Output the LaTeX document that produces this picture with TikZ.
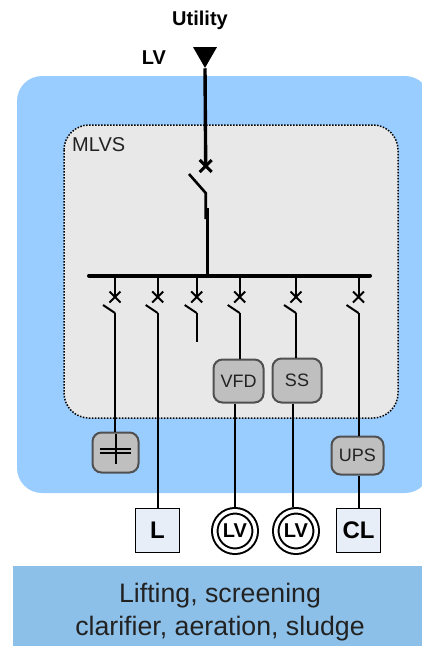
\documentclass[tikz,border=0pt]{standalone}
\usepackage{fontspec}
\setmainfont{Liberation Sans}
\usetikzlibrary{shapes.geometric,shapes.misc}
\definecolor{sitecolor}{HTML}{99CCFF}
\definecolor{panelcolor}{HTML}{E8E8E8}
\definecolor{unitcolor}{HTML}{BFBFBF}
\definecolor{unitline}{HTML}{505050}
\definecolor{loadcolor}{HTML}{E8EEF8}
\definecolor{bandcolor}{HTML}{8DC0E8}
\definecolor{bandtext}{HTML}{222222}
\newcommand{\fs}[1]{\fontsize{#1}{#1}\selectfont}
\tikzset{
  wire/.style={line width=2pt},
  mainwire/.style={line width=3.4pt},
  brk/.style={cross out,draw,line width=2pt,minimum size=9pt,inner sep=0pt},
  unit/.style={draw=unitline,fill=unitcolor,line width=2pt,rounded corners=9pt,inner sep=0pt,text=bandtext},
  load/.style={draw,fill=loadcolor,line width=1pt,minimum size=44pt,inner sep=0pt},
  motor/.style={circle,draw,fill=white,line width=2pt,double=white,double distance=3.5pt,minimum size=40.5pt,inner sep=0pt,outer sep=3.75pt}
}
\begin{document}
\begin{tikzpicture}[x=1pt,y=-1pt]
  \clip (0,0) rectangle (422,646);
  \fill[sitecolor,rounded corners=25pt] (17,76) rectangle (430,493);
  \draw[fill=panelcolor,line width=1.5pt,dash pattern=on 1.5pt off 1.5pt,rounded corners=25pt] (64,125) rectangle (398,418);
  \fill[bandcolor] (13,566) rectangle (422,646);
  \node[text=bandtext,align=center,font=\fs{26.7},inner sep=0pt] (band) at (220,612) {Lifting, screening\\[6pt]clarifier, aeration, sludge};
  \node[font=\fs{20}\bfseries] (utility) at (200,20) {Utility};
  \node[font=\fs{20}\bfseries] (lvlabel) at (154,58) {LV};
  \node[font=\fs{20},text=bandtext,anchor=west,inner sep=0pt] (mlvs) at (72,145) {MLVS};

  % incomer
  \node[regular polygon,regular polygon sides=3,shape border rotate=180,fill,minimum size=27.7pt,inner sep=0pt] (src) at (205,54) {};
  \node[brk,line width=3pt] (brkmain) at (205.7,166) {};
  \coordinate (bladetop) at (189,174);
  \coordinate (bladeend) at (205.7,193);
  \coordinate (bladelow) at (205.7,219);
  \coordinate (feedtop) at (207.7,208);
  \coordinate (feedbus) at (207.7,275);
  \draw[mainwire] (src.south) -- (brkmain.center);
  \draw[wire,line width=2.6pt] (bladetop) -- (bladeend) -- (bladelow);
  \draw[mainwire] (feedtop) -- (feedbus);

  % busbar
  \coordinate (busl) at (89,275.5);
  \coordinate (busr) at (370,275.5);
  \draw[line width=4pt,line cap=round] (busl) -- (busr);

  % branches
  \foreach \n/\x in {1/115,2/157.7,3/196.7,4/239.7,5/296,6/358.5}{
    \coordinate (tap\n) at (\x,275.5);
    \node[brk] (brk\n) at (\x,297) {};
    \coordinate (arm\n) at (\x-12,305);
    \coordinate (hinge\n) at (\x,313);
    \draw[wire] (tap\n) -- (brk\n.center);
    \draw[wire] (arm\n) -- (hinge\n);
  }

  % units and loads
  \node[unit,minimum width=46pt,minimum height=40pt] (cap) at (115.5,452.5) {};
  \node[unit,font=\fs{18},minimum width=50pt,minimum height=43pt] (vfd) at (238.5,381) {VFD};
  \node[unit,font=\fs{18},minimum width=49pt,minimum height=44pt] (ss) at (297,380.5) {SS};
  \node[unit,font=\fs{18},minimum width=52pt,minimum height=38pt] (ups) at (357.5,455.5) {UPS};
  \node[load,font=\fs{24}\bfseries] (lighting) at (157.5,530) {L};
  \node[motor,font=\fs{20}\bfseries] (motora) at (235,531) {LV};
  \node[motor,font=\fs{20}\bfseries] (motorb) at (296,531) {LV};
  \node[load,font=\fs{24}\bfseries] (critical) at (358.5,530) {CL};

  \draw[wire] (hinge1) -- (hinge1 |- cap.north);
  \draw[wire] (hinge2) -- (hinge2 |- lighting.north);
  \draw[wire] (hinge3) -- ++(0,29);
  \draw[wire] (hinge4) -- (hinge4 |- vfd.north);
  \draw[wire] (hinge5) -- (hinge5 |- ss.north);
  \draw[wire] (hinge6) -- (hinge6 |- ups.north);
  \draw[wire] (vfd.south -| motora.north) -- (motora.north);
  \draw[wire] ([xshift=-4pt]ss.south) -- ([xshift=-3pt]motorb.north);
  \draw[wire] (ups.south -| critical.north) -- (critical.north);

  % capacitor symbol
  \coordinate (capc) at (115.5,451);
  \draw[wire] ([xshift=-15.5pt,yshift=-2pt]capc) -- ([xshift=15.5pt,yshift=-2pt]capc);
  \draw[wire] ([xshift=-15.5pt,yshift=2pt]capc) -- ([xshift=15.5pt,yshift=2pt]capc);
  \draw[wire] ([yshift=-13pt]capc) -- ([yshift=17pt]capc);
\end{tikzpicture}
\end{document}
